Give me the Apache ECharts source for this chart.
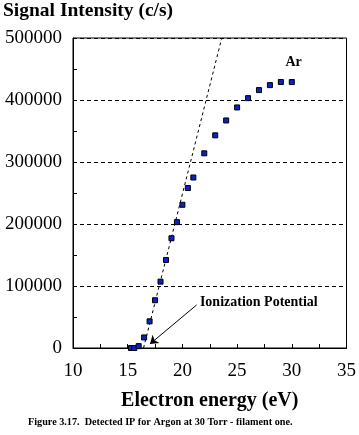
<!DOCTYPE html>
<html>
<head>
<meta charset="utf-8">
<script src="https://cdn.jsdelivr.net/npm/echarts@6/dist/echarts.min.js"></script>
<style>html,body{margin:0;padding:0;background:#fff;}#c{width:359px;height:435px;}</style>
</head>
<body>
<div id="c"></div>
<script>
var energy = [15.3, 15.6, 16, 16.5, 17, 17.5, 18, 18.5, 19, 19.5, 20, 20.5, 21, 22, 23, 24, 25, 26, 27, 28, 29, 30];
var signal = [0, 0, 3000, 17000, 43000, 77000, 107000, 142000, 177000, 203000, 231000, 258000, 275000, 314000, 343000, 367000, 388000, 403000, 416000, 424000, 429000, 429000];
var fitEnergy = [16.45, 23.6];
var fitSignal = [0, 500000];
var xTicks = [10, 15, 20, 25, 30, 35];
var yTicks = [0, 100000, 200000, 300000, 400000, 500000];
var arrowFrom = [21.3, 69400];
var arrowTo = [17.03, 6450];
var ipLabelPos = [21.6, 74200];
var arLabelPos = [30.16, 461300];

var F = 'Liberation Serif, Times New Roman, serif';
var chart = echarts.init(document.getElementById('c'), null, {renderer: 'canvas'});
chart.setOption({
  animation: false,
  grid: {left: 73, right: 12, top: 38, bottom: 87, show: true, borderColor: '#000', borderWidth: 1, backgroundColor: 'transparent'},
  xAxis: {
    type: 'value', min: xTicks[0], max: xTicks[xTicks.length - 1], interval: 5,
    name: 'Electron energy (eV)', nameLocation: 'middle', nameGap: 43,
    nameTextStyle: {fontFamily: F, fontSize: 20, fontWeight: 'bold', color: '#000'},
    axisLine: {lineStyle: {color: '#000', width: 1}},
    axisTick: {inside: true, length: 4, lineStyle: {color: '#000'}},
    minorTick: {show: true, splitNumber: 2, length: 4, lineStyle: {color: '#000'}},
    axisLabel: {fontFamily: F, fontSize: 19, color: '#000', margin: 14},
    splitLine: {show: false}
  },
  yAxis: {
    type: 'value', min: yTicks[0], max: yTicks[yTicks.length - 1], interval: 100000,
    axisLine: {show: true, lineStyle: {color: '#000', width: 1}},
    axisTick: {show: true, inside: true, length: 4, lineStyle: {color: '#000'}},
    minorTick: {show: true, splitNumber: 2, length: 4, lineStyle: {color: '#000'}},
    axisLabel: {fontFamily: F, fontSize: 19, color: '#000', margin: 11, formatter: function (v) { return String(v); }},
    splitLine: {show: true, lineStyle: {color: '#000', type: [4, 3], width: 1}}
  },
  series: [
    {
      type: 'line', data: fitEnergy.map(function (x, i) { return [x, fitSignal[i]]; }),
      symbol: 'none', lineStyle: {color: '#000', width: 1, type: [3, 3]}, z: 2, silent: true,
      markLine: {
        silent: true, symbol: ['none', 'arrow'], symbolSize: 8,
        lineStyle: {color: '#000', width: 1, type: 'solid'}, label: {show: false},
        emphasis: {disabled: true},
        data: [[{coord: arrowFrom}, {coord: arrowTo}]]
      },
      markPoint: {
        silent: true, symbol: 'circle', symbolSize: 0,
        data: [
          {coord: ipLabelPos, label: {show: true, position: 'right', distance: 0, formatter: 'Ionization Potential', fontFamily: F, fontSize: 14, fontWeight: 'bold', color: '#000'}},
          {coord: arLabelPos, label: {show: true, position: 'inside', formatter: 'Ar', fontFamily: F, fontSize: 14, fontWeight: 'bold', color: '#000'}}
        ]
      }
    },
    {
      type: 'scatter', data: energy.map(function (x, i) { return [x, signal[i]]; }),
      symbol: 'rect', symbolSize: 5,
      itemStyle: {color: '#0a22c8', borderColor: '#000', borderWidth: 1, opacity: 1}, z: 3
    }
  ],
  graphic: [
    {type: 'text', left: 3, top: 1, style: {text: 'Signal Intensity (c/s)', font: 'bold 19.5px ' + F, fill: '#000'}},
    {type: 'text', left: 28, top: 417, style: {text: 'Figure 3.17.  Detected IP for Argon at 30 Torr - filament one.', font: 'bold 10.2px ' + F, fill: '#000'}}
  ]
});
</script>
</body>
</html>
